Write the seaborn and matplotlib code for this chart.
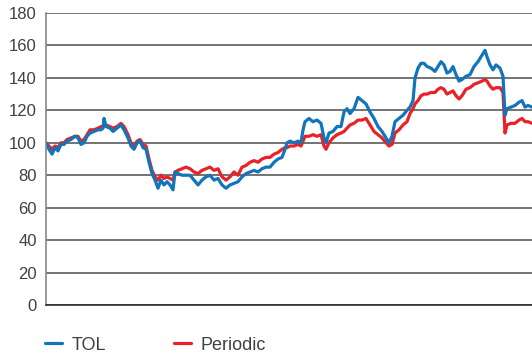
import pandas as pd
import seaborn as sns
import matplotlib.pyplot as plt

# trading-day index and index values (start = 100)
days = [0, 3, 6, 9, 12, 15, 18, 21, 25, 29, 32, 35, 38, 41, 44, 48, 52, 55, 57, 58,
        60, 64, 67, 71, 75, 78, 82, 85, 88, 91, 94, 97, 100, 103, 106, 109, 112, 115, 118, 121,
        124, 127, 129, 132, 136, 140, 144, 148, 152, 156, 160, 164, 168, 172, 176, 180, 184, 188, 192, 196,
        200, 204, 208, 212, 216, 220, 224, 228, 232, 236, 239, 241, 244, 248, 252, 255, 257, 259, 263, 267,
        271, 275, 278, 280, 283, 287, 291, 295, 298, 301, 304, 308, 312, 316, 320, 324, 328, 332, 336, 340,
        343, 346, 349, 353, 357, 361, 364, 367, 369, 372, 375, 378, 381, 385, 389, 392, 395, 398, 401, 404,
        407, 410, 413, 416, 420, 424, 428, 432, 436, 439, 441, 444, 447, 450, 454, 457, 459, 461, 465, 469,
        473, 476, 479, 482, 486]

tol = [100, 96, 93, 97, 95, 99, 99, 101, 102, 104, 103, 99, 100, 104, 106, 107, 108, 108, 109, 115,
       110, 109, 107, 109, 111, 108, 103, 98, 96, 100, 101, 97, 96, 88, 81, 77, 72, 77, 74, 76,
       74, 71, 82, 81, 80, 80, 80, 77, 74, 77, 79, 80, 77, 78, 74, 72, 74, 75, 76, 79,
       81, 82, 83, 82, 84, 85, 85, 88, 90, 91, 96, 100, 101, 100, 101, 100, 108, 113, 115, 113,
       114, 112, 103, 100, 106, 107, 110, 110, 119, 121, 118, 121, 128, 126, 124, 119, 115, 110, 107, 103,
       100, 104, 113, 115, 117, 120, 122, 126, 140, 146, 149, 149, 147, 146, 144, 147, 150, 148, 143, 144,
       147, 142, 138, 139, 141, 142, 147, 150, 154, 157, 153, 148, 145, 148, 146, 141, 117, 121, 122, 123,
       125, 126, 122, 123, 122]

periodic = [100, 98, 96, 98, 97, 100, 100, 102, 103, 104, 104, 101, 102, 105, 108, 108, 109, 110, 110, 111,
            111, 110, 109, 110, 112, 110, 105, 100, 98, 101, 102, 99, 98, 90, 83, 79, 77, 80, 78, 79,
            78, 77, 82, 83, 84, 85, 84, 82, 81, 83, 84, 85, 83, 84, 79, 77, 79, 82, 80, 85,
            86, 88, 89, 88, 90, 91, 91, 93, 94, 96, 97, 97, 98, 98, 99, 98, 101, 104, 104, 105,
            104, 105, 98, 96, 100, 103, 105, 106, 107, 109, 111, 112, 114, 114, 115, 111, 107, 105, 103, 100,
            98, 99, 106, 108, 111, 113, 118, 121, 124, 126, 129, 130, 130, 131, 131, 133, 134, 133, 130, 131,
            132, 129, 127, 129, 133, 134, 136, 137, 138, 139, 138, 135, 133, 134, 134, 131, 106, 111, 112, 112,
            114, 115, 113, 113, 112]

series_names = ["TOL", "Periodic"]
colors = {"TOL": "#1274bb", "Periodic": "#ea2228"}

df = pd.concat([
    pd.DataFrame({"day": days, "value": tol, "series": "TOL"}),
    pd.DataFrame({"day": days, "value": periodic, "series": "Periodic"}),
])

sns.set_style("white")
plt.rcParams["font.family"] = ["Liberation Sans", "DejaVu Sans"]

fig = plt.figure(figsize=(5.32, 3.58), dpi=100)
ax = fig.add_axes([0.0865, 0.148, 0.9135, 0.8157])

# red underneath, blue on top
for name in ["Periodic", "TOL"]:
    sns.lineplot(data=df[df["series"] == name], x="day", y="value", ax=ax,
                 color=colors[name], linewidth=2.3, label=name, legend=False)

ax.set_xlim(0, 486)
ax.set_ylim(0, 180)
ax.set_yticks(range(0, 181, 20))
ax.set_xticks([])
ax.set_xlabel("")
ax.set_ylabel("")
ax.grid(axis="y", color="#4d4d4d", linewidth=1.1)
ax.set_axisbelow(True)
ax.tick_params(axis="y", length=0, pad=6.5, labelsize=12, labelcolor="#404040")

for s in ["top", "right"]:
    ax.spines[s].set_visible(False)
ax.spines["left"].set_color("#888888")
ax.spines["left"].set_linewidth(1.2)
ax.spines["bottom"].set_color("#222222")
ax.spines["bottom"].set_linewidth(1.1)

handles, labels = ax.get_legend_handles_labels()
order = [labels.index(n) for n in series_names]
ax.legend([handles[i] for i in order], series_names, ncol=2, frameon=False,
          loc="center left", bbox_to_anchor=(-0.002, -0.137),
          borderpad=0, borderaxespad=0,
          fontsize=13, handlelength=0.95, handletextpad=0.5, columnspacing=3.8,
          labelcolor="#404040")

fig.savefig("out.png", dpi=100)
